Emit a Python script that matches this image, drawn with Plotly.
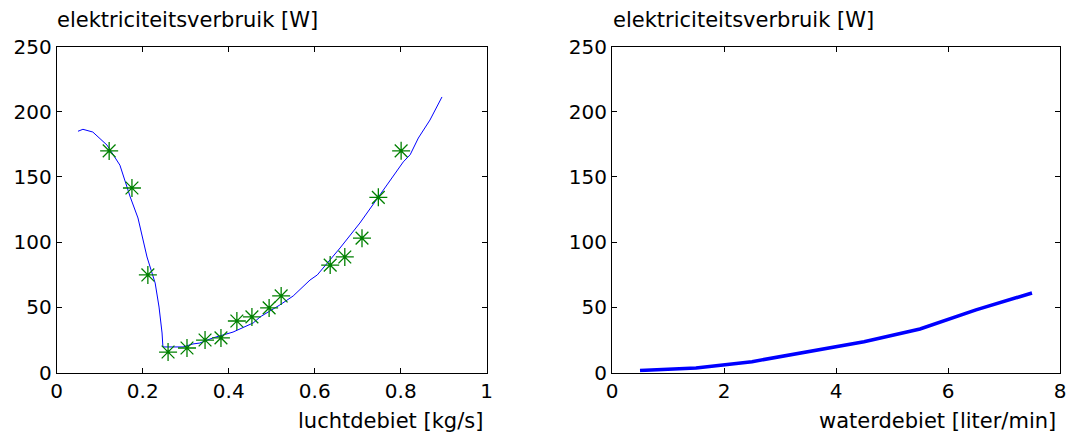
import plotly.graph_objects as go

# Left panel: model curve (luchtdebiet vs elektriciteitsverbruik)
air_curve_x = [0.0495, 0.061, 0.084, 0.117, 0.147, 0.171, 0.189, 0.210, 0.229, 0.238, 0.245, 0.247,
               0.294, 0.317, 0.333, 0.363, 0.410, 0.457, 0.473, 0.519, 0.550, 0.589, 0.606, 0.659,
               0.705, 0.747, 0.768, 0.806, 0.822, 0.841, 0.868, 0.896]
air_curve_y = [185, 186.5, 184.4, 174.4, 159, 134.6, 118.5, 88.6, 68.6, 50.2, 30.3, 19.6,
               19.6, 21.9, 22.6, 26.5, 31, 38, 42.6, 51.8, 58.7, 70.9, 74.8, 95.5,
               114.6, 134.6, 143.8, 161.5, 167, 179.8, 193.6, 211.3]

# Left panel: measured points
air_meas_x = [0.122, 0.175, 0.212, 0.259, 0.303, 0.345, 0.382, 0.419, 0.454, 0.494, 0.522,
              0.636, 0.670, 0.710, 0.748, 0.801]
air_meas_y = [169.9, 141.5, 74.8, 15.7, 18.8, 24.9, 26.5, 39.5, 42.6, 49.5, 58.7,
              82.4, 88.6, 103, 134.3, 170]

# Right panel: waterdebiet vs elektriciteitsverbruik
water_x = [0.5, 1.5, 2.5, 3.5, 4.5, 5.5, 6.5, 7.5]
water_y = [1.5, 3.5, 8.3, 16, 23.6, 33.4, 48, 61]

y_title = "elektriciteitsverbruik [W]"
x_title_left = "luchtdebiet [kg/s]"
x_title_right = "waterdebiet [liter/min]"

FONT = "DejaVu Sans"
FS = 20
FS_LABEL = 21

fig = go.Figure()
fig.add_trace(go.Scatter(x=air_curve_x, y=air_curve_y, mode="lines",
                         line=dict(color="rgb(0,0,255)", width=1), xaxis="x", yaxis="y",
                         showlegend=False))
fig.add_trace(go.Scatter(x=air_meas_x, y=air_meas_y, mode="markers",
                         marker=dict(symbol="asterisk-open", size=15, color="rgb(0,128,0)",
                                     line=dict(color="rgb(0,128,0)", width=1.3)),
                         xaxis="x", yaxis="y", showlegend=False))
fig.add_trace(go.Scatter(x=water_x, y=water_y, mode="lines",
                         line=dict(color="rgb(0,0,255)", width=3.5), xaxis="x2", yaxis="y2",
                         showlegend=False))

W, H = 1070, 436
def px_x(p):
    return p / W
def px_y(p):
    return 1 - p / H

axis_common = dict(showline=True, linecolor="black", linewidth=1, mirror="ticks",
                   ticks="inside", ticklen=5, tickcolor="black", showgrid=False,
                   zeroline=False, automargin=False,
                   tickfont=dict(family=FONT, size=FS, color="black"))

fig.update_layout(
    width=W, height=H,
    margin=dict(l=0, r=0, t=0, b=0, autoexpand=False),
    paper_bgcolor="white", plot_bgcolor="white",
    xaxis=dict(domain=[px_x(56.7), px_x(486.7)], range=[0, 1], tickvals=[0, 0.2, 0.4, 0.6, 0.8, 1],
               ticktext=["0", "0.2", "0.4", "0.6", "0.8", "1"], anchor="y", **axis_common),
    yaxis=dict(domain=[px_y(372.5), px_y(46.5)], range=[0, 250], tickvals=[0, 50, 100, 150, 200, 250],
               anchor="x", **axis_common),
    xaxis2=dict(domain=[px_x(612), px_x(1060)], range=[0, 8], tickvals=[0, 2, 4, 6, 8],
                anchor="y2", **axis_common),
    yaxis2=dict(domain=[px_y(372.5), px_y(46.5)], range=[0, 250], tickvals=[0, 50, 100, 150, 200, 250],
                anchor="x2", **axis_common),
    annotations=[
        dict(text=y_title, xref="paper", yref="paper", x=px_x(55), y=px_y(20),
             xanchor="left", yanchor="middle", showarrow=False,
             font=dict(family=FONT, size=FS_LABEL, color="black")),
        dict(text=y_title, xref="paper", yref="paper", x=px_x(611), y=px_y(20),
             xanchor="left", yanchor="middle", showarrow=False,
             font=dict(family=FONT, size=FS_LABEL, color="black")),
        dict(text=x_title_left, xref="paper", yref="paper", x=px_x(485), y=px_y(421),
             xanchor="right", yanchor="middle", showarrow=False,
             font=dict(family=FONT, size=FS_LABEL, color="black")),
        dict(text=x_title_right, xref="paper", yref="paper", x=px_x(1058), y=px_y(421),
             xanchor="right", yanchor="middle", showarrow=False,
             font=dict(family=FONT, size=FS_LABEL, color="black")),
    ],
)

fig.write_html("out.html", config={"displayModeBar": False},
               post_script="document.body.style.margin='0';document.body.style.padding='0';")
